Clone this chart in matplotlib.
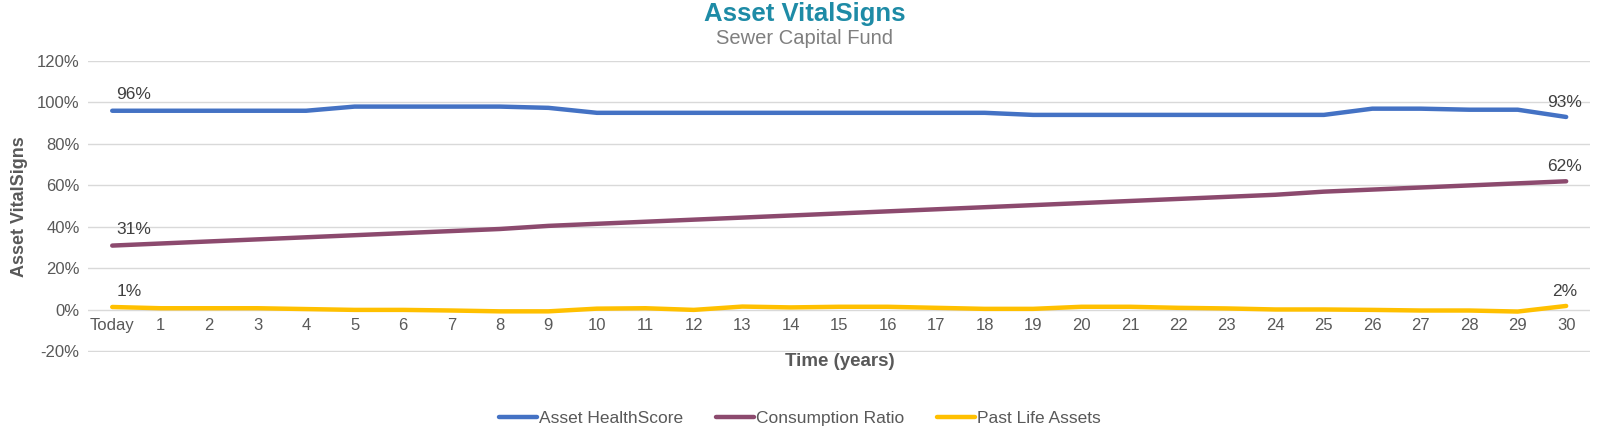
import matplotlib
matplotlib.use("Agg")
import matplotlib.pyplot as plt
from matplotlib.ticker import FuncFormatter

plt.rcParams["font.family"] = ["Liberation Sans", "DejaVu Sans"]

years = ["Today"] + [str(i) for i in range(1, 31)]
health = [96, 96, 96, 96, 96, 98, 98, 98, 98, 97.4, 95, 95, 95, 95, 95, 95,
          95, 95, 95, 94, 94, 94, 94, 94, 94, 94, 97, 97, 96.5, 96.5, 93]
consumption = [31, 32, 33, 34, 35, 36, 37, 38, 39, 40.5, 41.5, 42.5, 43.5,
               44.5, 45.5, 46.5, 47.5, 48.5, 49.5, 50.5, 51.5, 52.5, 53.5,
               54.5, 55.5, 57, 58, 59, 60, 61, 62]
past_life = [1.4, 0.8, 0.8, 0.8, 0.4, 0, 0, -0.3, -0.7, -0.7, 0.6, 0.8, 0,
             1.6, 1.2, 1.5, 1.5, 1.0, 0.5, 0.5, 1.5, 1.5, 1.0, 0.7, 0.2, 0.2,
             0, -0.3, -0.3, -0.8, 1.9]
series = [("Asset HealthScore", health, "#4472C4"),
          ("Consumption Ratio", consumption, "#8C4A6E"),
          ("Past Life Assets", past_life, "#FFC000")]

txt = "#595959"
fig = plt.figure(figsize=(16, 4.37), dpi=100)
ax = fig.add_axes([0.055, 0.1945, 0.939, 0.666])
x = list(range(len(years)))
for name, vals, col in series:
    ax.plot(x, vals, color=col, lw=3.2, label=name, solid_capstyle="round")
    ax.annotate(f"{round(vals[0])}%", (x[0], vals[0]), xytext=(3, 6),
                textcoords="offset points", ha="left", va="bottom",
                fontsize=12.5, color="#404040")
    ax.annotate(f"{round(vals[-1])}%", (x[-1], vals[-1]), xytext=(-1, 5),
                textcoords="offset points", ha="center", va="bottom",
                fontsize=12.5, color="#404040")

ax.set_xlim(-0.5, len(years) - 0.5)
ax.set_ylim(-20.3, 120)
ax.set_yticks(range(-20, 121, 20))
ax.yaxis.set_major_formatter(FuncFormatter(lambda v, p: f"{v:.0f}%"))
ax.set_xticks(x)
ax.set_xticklabels(years)
ax.grid(axis="y", color="#D9D9D9", lw=1)
ax.set_axisbelow(True)
for s in ax.spines.values():
    s.set_visible(False)
ax.spines["bottom"].set_position(("data", 0))
ax.tick_params(axis="both", length=0, labelsize=12, colors=txt, pad=6)
ax.tick_params(axis="x", pad=6)
fig.text(0.0125, 0.527, "Asset VitalSigns", rotation=90, ha="center",
         va="center", fontsize=13, fontweight="bold", color=txt)
fig.text(0.525, 0.172, "Time (years)", ha="center", va="center", fontsize=13.5,
         fontweight="bold", color=txt)

fig.text(0.503, 0.968, "Asset VitalSigns", ha="center", va="center",
         fontsize=18.5, fontweight="bold", color="#1E8BA6")
fig.text(0.503, 0.912, "Sewer Capital Fund", ha="center", va="center",
         fontsize=14.5, color="#7F7F7F")

fig.legend(loc="center", bbox_to_anchor=(0.5, 0.042), ncol=3, frameon=False,
           fontsize=12.5, handlelength=2.2, handletextpad=0.1,
           columnspacing=1.9, labelcolor=txt)
fig.savefig("out.png", dpi=100)
